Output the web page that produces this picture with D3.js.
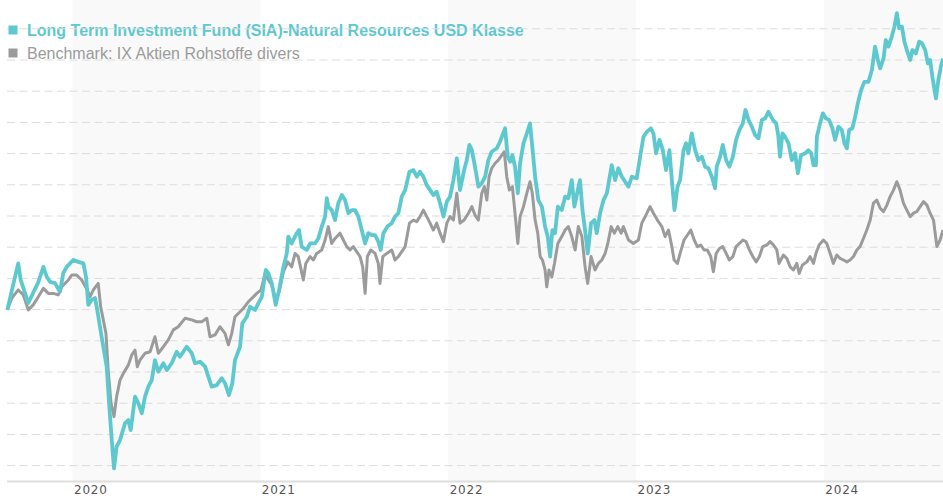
<!DOCTYPE html>
<html>
<head>
<meta charset="utf-8">
<script src="https://cdn.jsdelivr.net/npm/d3@7"></script>
<style>
  body { margin: 0; background: #fff; }
  svg { display: block; }
</style>
</head>
<body>
<svg id="chart" width="943" height="500"></svg>
<script>
// ---- data (x = decimal year, y = indexed value, start = 100) ----
const seriesNames = ["Long Term Investment Fund (SIA)-Natural Resources USD Klasse", "Benchmark: IX Aktien Rohstoffe divers"];
const yearTicks = [2020, 2021, 2022, 2023, 2024];
const shadedYears = [2020, 2022, 2024];
const gridValues = [50, 60, 70, 80, 90, 100, 110, 120, 130, 140, 150, 160, 170, 180, 190];

const fund = [[2019.653,99.9],[2019.711,114.8],[2019.724,109.5],[2019.765,102.1],[2019.790,105.3],[2019.816,108.5],[2019.845,113.7],[2019.863,110.5],[2019.880,108.9],[2019.907,108.5],[2019.933,105.7],[2019.951,111.7],[2019.969,113.7],[2020.004,115.9],[2020.031,115.3],[2020.058,114.8],[2020.072,110.5],[2020.084,101.5],[2020.102,103.1],[2020.120,103.7],[2020.129,100.9],[2020.155,91.3],[2020.164,88.1],[2020.182,81.7],[2020.196,68.9],[2020.209,58.2],[2020.221,49.1],[2020.235,56.1],[2020.253,58.2],[2020.280,63.6],[2020.297,64.6],[2020.310,61.4],[2020.333,72.1],[2020.350,70.0],[2020.369,66.8],[2020.386,72.1],[2020.404,75.3],[2020.422,77.4],[2020.439,83.8],[2020.457,80.1],[2020.484,82.8],[2020.502,80.6],[2020.528,82.8],[2020.555,86.5],[2020.572,84.9],[2020.608,88.1],[2020.635,86.0],[2020.652,82.8],[2020.679,83.3],[2020.706,81.7],[2020.723,78.5],[2020.741,75.3],[2020.768,75.8],[2020.795,78.0],[2020.812,76.4],[2020.833,72.6],[2020.851,76.4],[2020.865,83.8],[2020.892,88.1],[2020.904,95.6],[2020.928,97.7],[2020.945,100.9],[2020.972,99.9],[2020.989,102.0],[2021.008,104.1],[2021.029,112.7],[2021.043,111.6],[2021.061,108.4],[2021.082,101.5],[2021.100,106.3],[2021.123,113.7],[2021.141,118.0],[2021.149,123.4],[2021.167,121.2],[2021.194,124.5],[2021.206,125.5],[2021.220,120.2],[2021.247,119.1],[2021.265,121.2],[2021.291,121.2],[2021.309,122.8],[2021.327,126.6],[2021.345,129.8],[2021.354,135.7],[2021.362,133.0],[2021.380,131.9],[2021.398,128.7],[2021.415,134.1],[2021.434,136.7],[2021.451,135.1],[2021.469,130.9],[2021.487,131.9],[2021.504,131.9],[2021.522,129.8],[2021.540,125.5],[2021.558,121.2],[2021.575,124.5],[2021.593,123.9],[2021.611,123.9],[2021.628,121.8],[2021.641,119.1],[2021.655,124.5],[2021.676,126.6],[2021.700,127.7],[2021.717,129.8],[2021.735,130.9],[2021.753,136.2],[2021.771,138.3],[2021.794,144.2],[2021.815,144.7],[2021.833,142.6],[2021.850,144.2],[2021.868,142.6],[2021.886,139.9],[2021.904,138.3],[2021.921,136.7],[2021.939,137.8],[2021.957,134.1],[2021.975,129.8],[2021.993,134.6],[2022.010,136.2],[2022.028,141.5],[2022.046,148.5],[2022.063,138.3],[2022.085,144.7],[2022.099,147.9],[2022.113,152.8],[2022.126,151.1],[2022.143,145.8],[2022.161,139.4],[2022.179,140.5],[2022.197,142.6],[2022.214,147.9],[2022.232,150.6],[2022.259,151.7],[2022.276,153.8],[2022.303,158.1],[2022.317,149.0],[2022.330,147.4],[2022.342,149.5],[2022.356,145.8],[2022.371,137.3],[2022.383,146.9],[2022.401,153.3],[2022.419,156.5],[2022.436,159.7],[2022.448,152.2],[2022.463,142.6],[2022.480,135.1],[2022.499,133.0],[2022.516,126.6],[2022.530,123.4],[2022.543,117.0],[2022.555,125.5],[2022.569,124.5],[2022.584,133.0],[2022.605,131.9],[2022.623,136.2],[2022.640,135.7],[2022.658,141.5],[2022.672,133.0],[2022.690,138.3],[2022.702,141.5],[2022.715,131.9],[2022.729,125.5],[2022.743,118.0],[2022.761,127.7],[2022.779,128.7],[2022.791,124.5],[2022.809,130.9],[2022.827,135.1],[2022.845,137.3],[2022.857,141.5],[2022.871,146.3],[2022.889,141.5],[2022.906,145.3],[2022.925,142.6],[2022.960,139.4],[2022.978,142.6],[2023.004,142.1],[2023.022,149.0],[2023.040,155.4],[2023.058,157.0],[2023.079,158.1],[2023.093,156.5],[2023.107,150.1],[2023.125,154.4],[2023.143,151.1],[2023.160,144.7],[2023.178,151.1],[2023.191,141.5],[2023.205,131.9],[2023.221,139.4],[2023.235,141.5],[2023.253,151.1],[2023.267,153.3],[2023.279,150.1],[2023.297,156.5],[2023.315,151.1],[2023.332,147.9],[2023.351,149.0],[2023.368,145.8],[2023.386,145.3],[2023.404,142.6],[2023.421,138.9],[2023.430,145.8],[2023.448,149.0],[2023.462,152.8],[2023.480,147.9],[2023.497,145.8],[2023.516,149.0],[2023.533,154.4],[2023.551,157.6],[2023.569,159.7],[2023.583,164.0],[2023.599,160.8],[2023.617,158.6],[2023.634,156.0],[2023.652,154.9],[2023.670,160.8],[2023.688,161.3],[2023.705,163.4],[2023.729,160.8],[2023.746,159.7],[2023.757,156.0],[2023.767,149.0],[2023.780,156.5],[2023.794,155.4],[2023.812,153.3],[2023.830,147.9],[2023.847,150.1],[2023.862,143.7],[2023.879,149.5],[2023.901,150.1],[2023.918,151.1],[2023.933,150.1],[2023.945,146.3],[2023.958,146.3],[2023.963,155.4],[2023.980,159.7],[2023.995,162.9],[2024.011,161.3],[2024.028,160.8],[2024.046,158.1],[2024.060,154.4],[2024.078,158.6],[2024.096,157.6],[2024.110,153.3],[2024.123,151.7],[2024.135,157.6],[2024.152,158.1],[2024.167,161.8],[2024.181,166.1],[2024.199,170.4],[2024.216,173.0],[2024.238,173.0],[2024.256,176.8],[2024.273,184.3],[2024.288,180.0],[2024.300,177.3],[2024.318,180.5],[2024.330,186.4],[2024.344,184.3],[2024.362,187.5],[2024.376,190.7],[2024.389,195.0],[2024.401,190.2],[2024.416,190.7],[2024.429,185.9],[2024.442,183.2],[2024.460,180.0],[2024.472,183.2],[2024.490,182.1],[2024.508,185.9],[2024.522,185.4],[2024.540,183.2],[2024.554,178.9],[2024.566,180.0],[2024.578,174.6],[2024.597,167.7],[2024.610,173.6],[2024.625,178.4],[2024.635,180.5]];

const bench = [[2019.653,99.9],[2019.676,103.6],[2019.711,106.3],[2019.738,104.7],[2019.765,99.9],[2019.791,101.5],[2019.818,104.1],[2019.845,106.8],[2019.871,105.2],[2019.898,105.2],[2019.924,104.7],[2019.943,107.3],[2019.978,109.5],[2019.996,111.1],[2020.022,111.1],[2020.049,109.5],[2020.079,106.3],[2020.093,104.1],[2020.111,106.3],[2020.137,108.4],[2020.150,100.9],[2020.164,96.7],[2020.178,92.4],[2020.191,79.6],[2020.205,70.0],[2020.221,65.7],[2020.235,72.1],[2020.253,77.4],[2020.271,79.6],[2020.297,82.2],[2020.315,85.4],[2020.333,87.0],[2020.345,81.7],[2020.359,83.8],[2020.386,86.0],[2020.413,86.5],[2020.439,91.3],[2020.457,86.0],[2020.484,88.1],[2020.510,90.3],[2020.537,93.5],[2020.563,94.5],[2020.599,97.2],[2020.635,96.7],[2020.661,96.1],[2020.688,96.1],[2020.715,97.2],[2020.732,91.3],[2020.759,91.9],[2020.785,94.5],[2020.812,92.4],[2020.830,88.7],[2020.848,92.4],[2020.865,97.7],[2020.892,99.3],[2020.910,100.4],[2020.936,102.5],[2020.963,104.1],[2020.981,105.2],[2021.004,106.3],[2021.025,111.6],[2021.043,109.5],[2021.061,107.9],[2021.082,103.1],[2021.100,105.7],[2021.123,112.1],[2021.146,115.3],[2021.167,113.7],[2021.185,118.0],[2021.202,117.0],[2021.229,109.5],[2021.242,114.8],[2021.265,117.0],[2021.282,115.9],[2021.300,118.0],[2021.327,119.1],[2021.345,122.3],[2021.362,126.6],[2021.380,121.2],[2021.398,122.8],[2021.424,124.5],[2021.442,122.3],[2021.460,120.2],[2021.478,119.1],[2021.495,120.2],[2021.513,118.6],[2021.531,117.0],[2021.545,113.7],[2021.558,105.2],[2021.570,117.0],[2021.588,119.1],[2021.611,118.0],[2021.628,114.8],[2021.637,108.4],[2021.652,117.0],[2021.673,118.0],[2021.700,119.1],[2021.717,115.9],[2021.735,117.0],[2021.753,118.6],[2021.771,120.2],[2021.794,127.7],[2021.815,128.7],[2021.833,128.2],[2021.850,129.8],[2021.868,131.9],[2021.886,129.8],[2021.904,127.7],[2021.921,125.5],[2021.939,127.7],[2021.957,124.5],[2021.975,121.8],[2021.993,127.7],[2022.010,129.8],[2022.028,128.7],[2022.046,137.3],[2022.063,127.7],[2022.085,128.7],[2022.108,130.9],[2022.126,133.0],[2022.143,130.3],[2022.161,128.7],[2022.179,137.3],[2022.193,139.4],[2022.206,135.1],[2022.218,142.6],[2022.232,145.3],[2022.250,146.9],[2022.267,147.9],[2022.286,149.5],[2022.299,150.6],[2022.312,142.6],[2022.326,138.3],[2022.342,139.4],[2022.356,130.9],[2022.371,121.2],[2022.383,129.8],[2022.401,133.0],[2022.419,137.3],[2022.436,141.0],[2022.448,137.3],[2022.463,128.7],[2022.477,124.5],[2022.490,117.0],[2022.502,115.9],[2022.516,112.7],[2022.525,107.3],[2022.537,112.7],[2022.552,110.5],[2022.566,114.8],[2022.584,121.2],[2022.605,123.4],[2022.623,125.5],[2022.640,126.6],[2022.658,123.4],[2022.676,119.1],[2022.693,126.6],[2022.712,123.4],[2022.729,113.7],[2022.743,108.4],[2022.761,117.0],[2022.782,112.7],[2022.800,114.8],[2022.818,115.9],[2022.836,118.0],[2022.850,121.2],[2022.868,126.6],[2022.885,124.5],[2022.903,126.6],[2022.921,124.5],[2022.933,126.6],[2022.960,122.3],[2022.986,121.2],[2023.013,122.3],[2023.031,127.7],[2023.049,129.8],[2023.075,133.0],[2023.093,130.9],[2023.114,128.7],[2023.138,126.6],[2023.155,123.4],[2023.173,125.5],[2023.191,120.2],[2023.203,115.9],[2023.221,114.8],[2023.235,118.0],[2023.256,122.3],[2023.274,123.9],[2023.292,125.5],[2023.310,122.3],[2023.327,120.2],[2023.345,120.7],[2023.363,119.1],[2023.380,119.1],[2023.398,117.0],[2023.412,112.1],[2023.427,118.0],[2023.444,119.6],[2023.462,120.2],[2023.480,118.0],[2023.497,115.9],[2023.516,117.0],[2023.533,120.2],[2023.551,121.2],[2023.569,122.3],[2023.586,121.8],[2023.604,119.1],[2023.622,117.0],[2023.640,115.3],[2023.657,117.0],[2023.675,120.2],[2023.697,120.7],[2023.714,121.8],[2023.732,120.7],[2023.750,119.1],[2023.762,114.8],[2023.785,117.5],[2023.803,116.4],[2023.821,113.7],[2023.838,112.7],[2023.856,114.8],[2023.869,111.6],[2023.886,114.3],[2023.910,115.3],[2023.927,117.0],[2023.945,114.8],[2023.958,118.0],[2023.975,120.7],[2023.998,122.3],[2024.016,121.2],[2024.034,118.0],[2024.051,114.8],[2024.069,117.5],[2024.087,116.4],[2024.105,115.9],[2024.123,115.3],[2024.140,115.9],[2024.158,117.0],[2024.176,119.1],[2024.193,120.2],[2024.211,122.8],[2024.229,125.5],[2024.247,128.7],[2024.264,134.1],[2024.282,135.1],[2024.300,132.5],[2024.318,131.4],[2024.336,133.5],[2024.353,136.2],[2024.371,138.3],[2024.389,141.0],[2024.406,138.3],[2024.424,134.1],[2024.442,131.9],[2024.460,129.8],[2024.477,130.9],[2024.495,131.4],[2024.513,133.0],[2024.531,134.6],[2024.549,133.5],[2024.566,130.9],[2024.584,128.7],[2024.602,120.2],[2024.619,122.3],[2024.635,125.5]];

// ---- layout ----
const width = 943, height = 500;
const plotLeft = 7, plotRight = 943, axisY = 481.5;
const teal = "#5ec8cf", grey = "#9b9b9b";
const legendColors = [teal, grey];

const x = d3.scaleLinear().domain([2020, 2024]).range([72.5, 823.8]);
const y = d3.scaleLinear().domain([50, 190]).range([465.6, 28.8]);

const svg = d3.select("#chart");

// alternating year bands
svg.append("g").selectAll("rect").data(shadedYears).join("rect")
    .attr("x", d => x(d))
    .attr("y", 0)
    .attr("width", d => Math.min(x(d + 1), plotRight) - x(d))
    .attr("height", axisY)
    .attr("fill", "#f9f9f9");

// legend text sits under the grid lines, like in the original
const legend = svg.append("g").attr("font-family", "'Liberation Sans', Arial, sans-serif").attr("font-size", "16px");
legend.selectAll("text").data(seriesNames).join("text")
    .attr("x", 27).attr("y", (d, i) => 36 + i * 23)
    .attr("fill", (d, i) => legendColors[i])
    .attr("font-weight", (d, i) => i === 0 ? "bold" : "normal")
    .text(d => d);

// dashed grid
svg.append("g").selectAll("line").data(gridValues).join("line")
    .attr("x1", plotLeft).attr("x2", plotRight)
    .attr("y1", d => y(d)).attr("y2", d => y(d))
    .attr("stroke", "#dcdcdc").attr("stroke-width", 1)
    .attr("stroke-dasharray", "8,4.5");

// legend markers on top
svg.append("g").selectAll("rect").data(seriesNames).join("rect")
    .attr("x", 8.5).attr("y", (d, i) => 25.5 + i * 23)
    .attr("width", 9).attr("height", 9)
    .attr("fill", (d, i) => legendColors[i]);

// x axis
svg.append("line")
    .attr("x1", plotLeft).attr("x2", plotRight)
    .attr("y1", axisY).attr("y2", axisY)
    .attr("stroke", "#dedede").attr("stroke-width", 2);

const xAxis = svg.append("g").attr("transform", `translate(0,${axisY})`)
    .call(d3.axisBottom(x).tickValues(yearTicks).tickFormat(d3.format("d")).tickSize(0).tickPadding(4));
xAxis.select(".domain").remove();
xAxis.selectAll("text")
    .attr("text-anchor", "start")
    .attr("dx", 1)
    .attr("fill", "#555")
    .attr("font-family", "'DejaVu Sans', sans-serif")
    .attr("font-size", "12px")
    .attr("letter-spacing", "0.8px");

// series
const line = d3.line().x(d => x(d[0])).y(d => y(d[1]));

svg.append("path").datum(bench)
    .attr("fill", "none").attr("stroke", grey).attr("stroke-width", 3)
    .attr("stroke-linejoin", "round").attr("d", line);

svg.append("path").datum(fund)
    .attr("fill", "none").attr("stroke", teal).attr("stroke-width", 3.8)
    .attr("stroke-linejoin", "round").attr("d", line);
</script>
</body>
</html>
